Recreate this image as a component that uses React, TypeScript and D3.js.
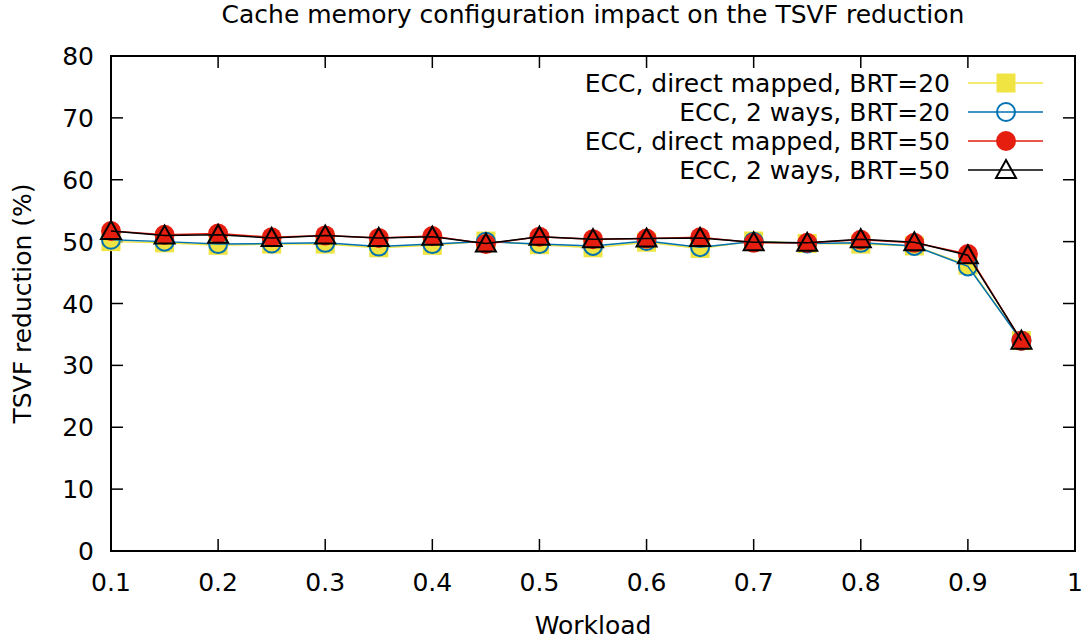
import React from 'react';
import * as d3 from 'd3';

// workload values on the x axis
const workload = [0.1, 0.15, 0.2, 0.25, 0.3, 0.35, 0.4, 0.45, 0.5, 0.55, 0.6, 0.65, 0.7, 0.75, 0.8, 0.85, 0.9, 0.95];

// TSVF reduction (%) per configuration
const directBrt20 = [50.0, 49.8, 49.4, 49.6, 49.6, 49.0, 49.4, 50.1, 49.5, 49.0, 49.9, 48.9, 50.1, 49.7, 49.6, 49.3, 46.2, 34.0];
const twoWaysBrt20 = [50.3, 50.0, 49.6, 49.7, 49.8, 49.2, 49.6, 50.0, 49.6, 49.3, 50.1, 49.1, 50.0, 49.7, 49.8, 49.3, 46.0, 34.0];
const directBrt50 = [51.7, 51.1, 51.3, 50.7, 51.0, 50.6, 50.9, 49.6, 50.8, 50.4, 50.5, 50.7, 49.8, 49.8, 50.3, 49.8, 48.0, 34.0];
const twoWaysBrt50 = [51.7, 51.0, 51.1, 50.6, 51.0, 50.6, 50.8, 49.7, 50.8, 50.4, 50.5, 50.6, 49.9, 49.8, 50.4, 49.9, 47.8, 34.0];

const seriesNames = [
  'ECC, direct mapped, BRT=20',
  'ECC, 2 ways, BRT=20',
  'ECC, direct mapped, BRT=50',
  'ECC, 2 ways, BRT=50',
];

const xTicks = [0.1, 0.2, 0.3, 0.4, 0.5, 0.6, 0.7, 0.8, 0.9, 1];
const yTicks = [0, 10, 20, 30, 40, 50, 60, 70, 80];

const W = 1091;
const H = 641;
const margin = { top: 56, right: 16, bottom: 90, left: 111 };
const font = 'DejaVu Sans, sans-serif';
const fs = 25;

type Kind = 'square' | 'circleOpen' | 'circleFilled' | 'triangle';

const series: { name: string; values: number[]; color: string; kind: Kind }[] = [
  { name: seriesNames[0], values: directBrt20, color: '#f0e442', kind: 'square' },
  { name: seriesNames[1], values: twoWaysBrt20, color: '#0072b2', kind: 'circleOpen' },
  { name: seriesNames[2], values: directBrt50, color: '#e51e10', kind: 'circleFilled' },
  { name: seriesNames[3], values: twoWaysBrt50, color: '#000000', kind: 'triangle' },
];

const Marker = ({ kind, color, x, y }: { kind: Kind; color: string; x: number; y: number }) => {
  if (kind === 'square') return <rect x={x - 9.5} y={y - 9.5} width={19} height={19} fill={color} />;
  if (kind === 'circleOpen')
    return <circle cx={x} cy={y} r={9} fill="none" stroke={color} strokeWidth={2} />;
  if (kind === 'circleFilled') return <circle cx={x} cy={y} r={10} fill={color} />;
  const tri = `M${x},${y - 10}L${x + 10},${y + 8}L${x - 10},${y + 8}Z`;
  return <path d={tri} fill="none" stroke={color} strokeWidth={2} strokeLinejoin="miter" />;
};

export default function App() {
  const x0 = margin.left;
  const x1 = W - margin.right;
  const y0 = H - margin.bottom;
  const y1 = margin.top;

  const x = d3.scaleLinear().domain([0.1, 1]).range([x0, x1]);
  const y = d3.scaleLinear().domain([0, 80]).range([y0, y1]);

  const line = d3
    .line<number>()
    .x((_, i) => x(workload[i]))
    .y((d) => y(d));

  const legendX = 950;
  const legendY = 83;
  const legendStep = 29;

  return (
    <svg width={W} height={H} style={{ position: 'absolute', left: 0, top: 0 }} fontFamily={font}>
      <rect width={W} height={H} fill="#fff" />
      <text x={(x0 + x1) / 2} y={23} textAnchor="middle" fontSize={fs}>
        Cache memory configuration impact on the TSVF reduction
      </text>

      {/* ticks, mirrored on all four sides */}
      {yTicks.map((t) => (
        <g key={'y' + t}>
          <line x1={x0} x2={x0 + 12} y1={y(t)} y2={y(t)} stroke="#000" strokeWidth={1.5} />
          <line x1={x1} x2={x1 - 12} y1={y(t)} y2={y(t)} stroke="#000" strokeWidth={1.5} />
          <text x={94} y={y(t) + 9} textAnchor="end" fontSize={fs}>
            {t}
          </text>
        </g>
      ))}
      {xTicks.map((t) => (
        <g key={'x' + t}>
          <line x1={x(t)} x2={x(t)} y1={y0} y2={y0 - 12} stroke="#000" strokeWidth={1.5} />
          <line x1={x(t)} x2={x(t)} y1={y1} y2={y1 + 12} stroke="#000" strokeWidth={1.5} />
          <text x={x(t)} y={591} textAnchor="middle" fontSize={fs}>
            {String(t)}
          </text>
        </g>
      ))}
      <rect x={x0} y={y1} width={x1 - x0} height={y0 - y1} fill="none" stroke="#000" strokeWidth={2} />

      <text x={(x0 + x1) / 2} y={634} textAnchor="middle" fontSize={fs}>
        Workload
      </text>
      <text transform={`translate(31,${(y0 + y1) / 2}) rotate(-90)`} textAnchor="middle" fontSize={fs}>
        TSVF reduction (%)
      </text>

      {/* legend */}
      {series.map((s, i) => {
        const ly = legendY + i * legendStep;
        return (
          <g key={'l' + i}>
            <text x={legendX} y={ly + 9} textAnchor="end" fontSize={fs}>
              {s.name}
            </text>
            <line x1={968} x2={1043} y1={ly} y2={ly} stroke={s.color} strokeWidth={1.5} />
            <Marker kind={s.kind} color={s.color} x={1006} y={ly} />
          </g>
        );
      })}

      {/* series */}
      {series.map((s, i) => (
        <g key={'s' + i}>
          <path d={line(s.values) ?? ''} fill="none" stroke={s.color} strokeWidth={1.5} />
          {s.values.map((v, j) => (
            <Marker key={j} kind={s.kind} color={s.color} x={x(workload[j])} y={y(v)} />
          ))}
        </g>
      ))}
    </svg>
  );
}
